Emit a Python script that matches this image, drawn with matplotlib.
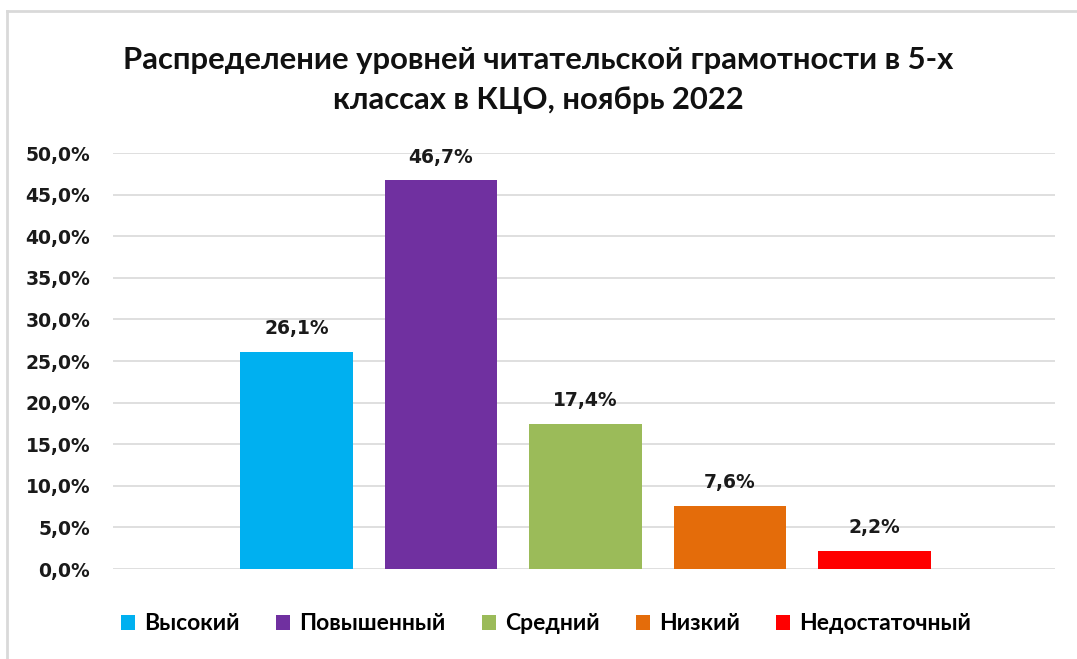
import matplotlib
matplotlib.use("Agg")
import matplotlib.pyplot as plt
from matplotlib.lines import Line2D
from matplotlib.patches import Patch

categories = ["Высокий", "Повышенный", "Средний", "Низкий", "Недостаточный"]
values = [26.1, 46.7, 17.4, 7.6, 2.2]
colors = ["#00B0F0", "#7030A0", "#9BBB59", "#E46C0A", "#FF0000"]
yticks = [0, 5, 10, 15, 20, 25, 30, 35, 40, 45, 50]
title = "Распределение уровней читательской грамотности в 5-х\nклассах в КЦО, ноябрь 2022"

def fmt(v):
    return f"{v:.1f}".replace(".", ",") + "%"

W, H = 1077, 659
fig = plt.figure(figsize=(W / 100, H / 100), dpi=100)
fig.patch.set_facecolor("white")

ax = fig.add_axes([113 / W, 1 - 569 / H, (1055 - 113) / W, (569 - 153) / H])
x = list(range(len(values)))
ax.bar(x, values, width=0.78, color=colors, zorder=3)
ax.set_xlim(-1.27, 5.25)
ax.set_ylim(0, 50)
ax.set_yticks(yticks)
ax.set_yticklabels([fmt(t) for t in yticks], fontsize=13.5, fontweight="bold",
                   family="DejaVu Sans", color="#1a1a1a")
ax.tick_params(axis="y", length=0, pad=16.5)
ax.set_xticks([])
ax.grid(axis="y", color="#d9d9d9", linewidth=1.2, zorder=0)
for s in ax.spines.values():
    s.set_visible(False)

for xi, v in zip(x, values):
    ax.annotate(fmt(v), (xi, v), xytext=(0, 10), textcoords="offset points",
                ha="center", va="bottom", fontsize=13.5, fontweight="bold",
                family="DejaVu Sans", color="#1a1a1a")

fig.text(0.5, 1 - 80 / H, title, ha="center", va="center", fontsize=22.3,
         fontweight="bold", family=["Lato", "DejaVu Sans"],
         linespacing=1.55, color="#111111")

handles = [Patch(facecolor=c, edgecolor="none") for c in colors]
fig.legend(handles, categories, loc="center", bbox_to_anchor=(0.507, 1 - 624 / H),
           ncol=5, frameon=False, handlelength=0.6, handleheight=0.6,
           handletextpad=0.4, columnspacing=1.6,
           prop={"family": ["Lato", "DejaVu Sans"], "size": 16.5, "weight": "bold"})

# chart border (top and left visible)
fig.add_artist(Line2D([7 / W, 7 / W], [0, 1 - 11 / H], transform=fig.transFigure,
                      color="#d9d9d9", linewidth=2))
fig.add_artist(Line2D([7 / W, 1], [1 - 11 / H, 1 - 11 / H], transform=fig.transFigure,
                      color="#d9d9d9", linewidth=2))

fig.savefig("out.png", dpi=100)
